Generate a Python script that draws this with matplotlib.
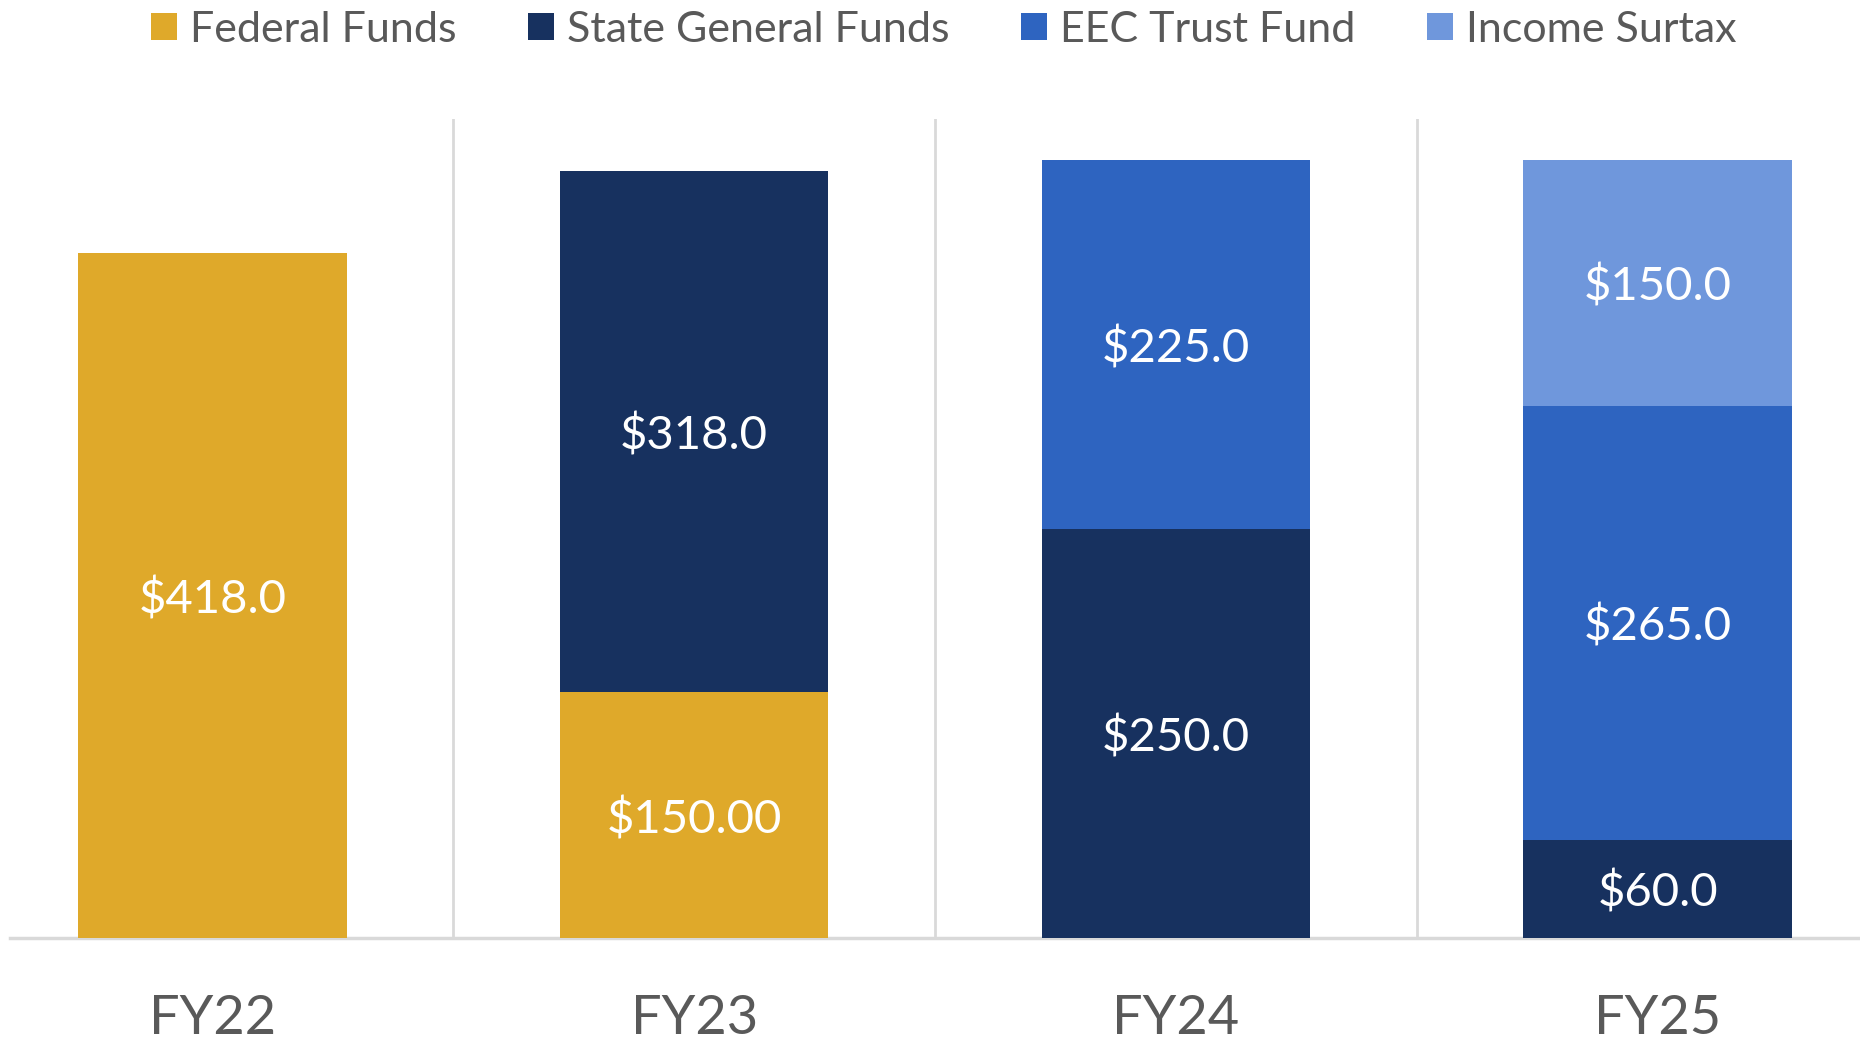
import numpy as np
import matplotlib
matplotlib.use('Agg')
import matplotlib.pyplot as plt
from matplotlib.patches import Patch

# data
years=['FY22','FY23','FY24','FY25']
series=['Federal Funds','State General Funds','EEC Trust Fund','Income Surtax']
federal=[418.0,150.0,0.0,0.0]
state_gf=[0.0,318.0,250.0,60.0]
eec_trust=[0.0,0.0,225.0,265.0]
surtax=[0.0,0.0,0.0,150.0]
labels={
  'Federal Funds':['$418.0','$150.00','',''],
  'State General Funds':['','$318.0','$250.0','$60.0'],
  'EEC Trust Fund':['','','$225.0','$265.0'],
  'Income Surtax':['','','','$150.0'],
}
colors=['#DFA92A','#17315F','#2E64C0','#6F97DC']

plt.rcParams['font.family']=['Lato','DejaVu Sans']
fig=plt.figure(figsize=(18.6,10.39),dpi=100)
ax=fig.add_axes([10/1860,101/1039,1-10/1860,(938-119)/1039])
ax.set_xlim(-0.42,3.42); ax.set_ylim(0,500)
x=np.arange(len(years))
bottom=np.zeros(len(years))
for name,vals,fc in zip(series,(federal,state_gf,eec_trust,surtax),colors):
  vals=np.array(vals)
  ax.bar(x,vals,0.557,bottom=bottom,color=fc,linewidth=0,zorder=3)
  for i,v in enumerate(vals):
    if v>0:
      ax.text(x[i],bottom[i]+v/2,labels[name][i],ha='center',va='center_baseline',color='white',fontsize=34,zorder=4)
  bottom+=vals

# separators between categories
for xs in (0.5,1.5,2.5):
  ax.axvline(xs,color='#D9D9D9',linewidth=2,zorder=1)
for s in ('top','right','left'): ax.spines[s].set_visible(False)
ax.spines['bottom'].set_color('#D9D9D9'); ax.spines['bottom'].set_linewidth(2.5)
ax.set_yticks([])
ax.set_xticks(x)
ax.set_xticklabels(years,fontsize=39,color='#595959')
ax.tick_params(axis='x',length=0,pad=40)

handles=[Patch(facecolor=c,edgecolor='none',label=s) for s,c in zip(series,colors)]
fig.legend(handles=handles,loc='center',bbox_to_anchor=(0.5075,1-30/1039),ncol=4,frameon=False,
  fontsize=31,labelcolor='#595959',handlelength=0.6,handleheight=0.6,handletextpad=0.3,columnspacing=1.67)
fig.savefig('out.png',dpi=100)
